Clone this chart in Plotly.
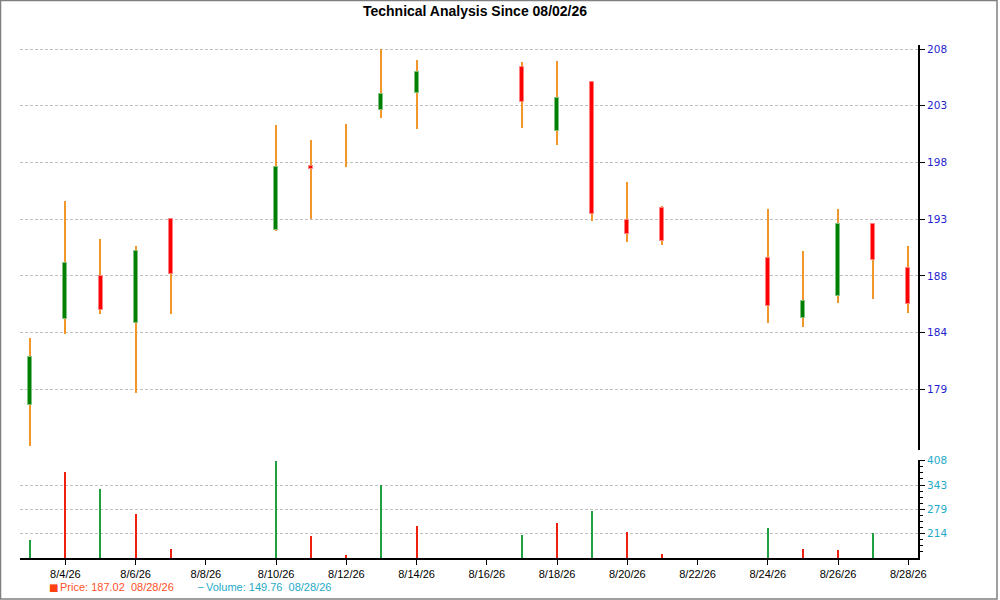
import plotly.graph_objects as go

# ---- data ----
dates = ['2026-08-03', '2026-08-04', '2026-08-05', '2026-08-06', '2026-08-07',
         '2026-08-10', '2026-08-11', '2026-08-12', '2026-08-13', '2026-08-14',
         '2026-08-17', '2026-08-18', '2026-08-19', '2026-08-20', '2026-08-21',
         '2026-08-24', '2026-08-25', '2026-08-26', '2026-08-27', '2026-08-28']
opens = [177.95, 185.20, 188.90, 184.87, 193.68,
         192.77, 198.22, 201.65, 202.91, 204.35,
         206.55, 201.15, 205.33, 193.59, 194.66,
         190.37, 185.29, 187.18, 193.30, 189.58]
highs = [183.62, 195.23, 191.98, 191.41, 193.70,
         201.64, 200.37, 201.72, 208.10, 207.17,
         207.00, 207.08, 205.35, 196.81, 194.80,
         194.52, 190.96, 194.52, 193.35, 191.39]
lows = [174.47, 183.93, 185.63, 178.99, 185.65,
        192.70, 193.68, 198.13, 202.28, 201.30,
        201.43, 199.97, 193.56, 191.78, 191.50,
        184.92, 184.53, 186.61, 186.95, 185.76]
closes = [182.04, 189.95, 185.99, 190.96, 189.02,
          198.13, 197.95, 201.65, 204.26, 206.18,
          203.61, 203.98, 194.12, 192.40, 191.84,
          186.33, 186.78, 193.30, 190.23, 186.48]
volumes = [197.6, 377.5, 332.3, 266.7, 173.7,
           408.32, 208.2, 157.0, 343.8, 234.8,
           210.9, 241.9, 274.7, 218.0, 160.4,
           228.6, 173.7, 171.0, 215.4, 149.76]
volume_dir = ['up', 'down', 'up', 'down', 'down',
              'up', 'down', 'down', 'up', 'down',
              'up', 'down', 'up', 'down', 'down',
              'up', 'down', 'down', 'up', 'down']

price_tick_labels = ['179', '184', '188', '193', '198', '203', '208']
volume_tick_labels = ['214', '279', '343', '408']
date_ticks = ['2026-08-04', '2026-08-06', '2026-08-08', '2026-08-10', '2026-08-12',
              '2026-08-14', '2026-08-16', '2026-08-18', '2026-08-20', '2026-08-22',
              '2026-08-24', '2026-08-26', '2026-08-28']
date_tick_labels = ['8/4/26', '8/6/26', '8/8/26', '8/10/26', '8/12/26', '8/14/26', '8/16/26',
                    '8/18/26', '8/20/26', '8/22/26', '8/24/26', '8/26/26', '8/28/26']

title = 'Technical Analysis Since 08/02/26'
price_legend = 'Price: 187.02\u00a0\u00a008/28/26'
volume_legend = 'Volume: 149.76\u00a0\u00a008/28/26'

# ---- derived ----
PX = 86400000 / 35.12          # ms per pixel on the date axis
p_min, p_max = min(lows), max(highs)
p_step = (p_max - p_min) / 7
price_ticks = [p_min + k * p_step for k in range(1, 8)]
v_min, v_max = min(volumes), max(volumes)
v_step = (v_max - v_min) / 4
volume_ticks = [v_min + k * v_step for k in range(1, 5)]
volume_minor = [v_min + k * v_step / 4 for k in range(1, 17) if k % 4]

body_base = [min(o, c) for o, c in zip(opens, closes)]
body_len = [abs(c - o) for o, c in zip(opens, closes)]
body_fill = ['#008000' if c > o else '#ff0000' if c < o else 'rgba(0,0,0,0)'
             for o, c in zip(opens, closes)]
body_edge = ['#7fbf7f' if c > o else '#ff8080' if c < o else 'rgba(0,0,0,0)'
             for o, c in zip(opens, closes)]
vol_colors = ['#20a040' if d == 'up' else '#f02010' for d in volume_dir]

fig = go.Figure()

# wicks
fig.add_trace(go.Bar(x=dates, y=[h - l for h, l in zip(highs, lows)], base=lows,
                     width=1.2 * PX, marker=dict(color='#f0962a', line=dict(width=0)),
                     xaxis='x', yaxis='y', hoverinfo='skip', showlegend=False))
# bodies
fig.add_trace(go.Bar(x=dates, y=body_len, base=body_base, width=4 * PX,
                     marker=dict(color=body_fill, line=dict(color=body_edge, width=1)),
                     xaxis='x', yaxis='y', showlegend=False))
# volume
fig.add_trace(go.Bar(x=dates, y=volumes, width=1.2 * PX,
                     marker=dict(color=vol_colors, line=dict(width=0)),
                     xaxis='x', yaxis='y2', showlegend=False))

grid = dict(showgrid=True, gridcolor='#c0c0c0', griddash='3px,2px', gridwidth=1)
v_range = [v_min, v_max + 1.9]

fig.update_layout(
    width=1000, height=600,
    margin=dict(l=20, r=82, t=45, b=42),
    paper_bgcolor='white', plot_bgcolor='white',
    barmode='overlay', bargap=0,
    showlegend=False,
    title=dict(text='<b>' + title + '</b>', x=0.475, xref='container', xanchor='center',
               y=0.982, yref='container', yanchor='middle',
               font=dict(family='Liberation Sans, Arial', size=14, color='black')),
    xaxis=dict(type='date', anchor='y2',
               range=['2026-08-02 16:58', '2026-08-28 06:39'],
               tickmode='array', tickvals=date_ticks, ticktext=date_tick_labels,
               ticks='outside', ticklen=5, tickcolor='black', tickwidth=1,
               showline=True, linecolor='black', linewidth=2, showgrid=False,
               tickfont=dict(family='Liberation Sans, Arial', size=11, color='black')),
    yaxis=dict(domain=[0.2105, 1], side='right', anchor='x',
               range=[p_min - 0.34, p_max + 0.34],
               tickmode='array', tickvals=price_ticks, ticktext=price_tick_labels,
               ticks='outside', ticklen=5, tickcolor='black',
               showline=True, linecolor='black', linewidth=2, zeroline=False,
               tickfont=dict(family='DejaVu Sans, Verdana', size=10.5, color='#1f1fcf'),
               **grid),
    yaxis2=dict(domain=[0, 0.191], side='right', anchor='x',
                range=v_range, showgrid=False,
                tickmode='array', tickvals=volume_ticks, ticktext=volume_tick_labels,
                ticks='outside', ticklen=5, tickcolor='black',
                minor=dict(tickmode='array', tickvals=volume_minor, ticks='outside',
                           ticklen=3, tickcolor='black', showgrid=False),
                showline=True, linecolor='black', linewidth=2, zeroline=False,
                tickfont=dict(family='DejaVu Sans, Verdana', size=10.5, color='#1eaac8')),
    # grid of the volume panel without the line at the very top
    yaxis3=dict(overlaying='y2', side='right', anchor='x', range=v_range,
                tickmode='array', tickvals=volume_ticks[:3], showticklabels=False,
                ticks='', showline=False, zeroline=False, **grid),
)
fig.add_trace(go.Scatter(x=[dates[0]], y=[v_min], mode='markers', marker=dict(opacity=0),
                         xaxis='x', yaxis='y3', hoverinfo='skip', showlegend=False))

# legend-like captions under the axis
fig.add_annotation(text='\u25a0', x=47, y=587, showarrow=False,
                   font=dict(size=10, color='#ff4010', family='DejaVu Sans'))
fig.add_annotation(text=price_legend, x=58, y=587, xanchor='left', showarrow=False,
                   font=dict(size=11, color='#ff5028', family='Liberation Sans, Arial'))
fig.add_annotation(text='\u2013', x=196, y=586, showarrow=False,
                   font=dict(size=10, color='#1eaac8', family='Liberation Sans, Arial'))
fig.add_annotation(text=volume_legend, x=204, y=587, xanchor='left', showarrow=False,
                   font=dict(size=11, color='#1eaac8', family='Liberation Sans, Arial'))

# convert the pixel positions of the captions to paper coordinates
plot_w, plot_h = 1000 - 20 - 82, 600 - 45 - 42
for ann in fig.layout.annotations:
    ann.xref, ann.yref = 'paper', 'paper'
    ann.x = (ann.x - 20) / plot_w
    ann.y = (558 - ann.y) / plot_h
    ann.yanchor = 'middle'

# outer frame
fig.add_shape(type='rect', xref='paper', yref='paper',
              x0=(0.5 - 20) / plot_w, x1=(997 - 20) / plot_w,
              y0=(558 - 599) / plot_h, y1=(558 - 0.5) / plot_h,
              line=dict(color='#808080', width=1.5), fillcolor='rgba(0,0,0,0)', layer='below')

fig.write_html('out.html', config={'displayModeBar': False},
               post_script="document.body.style.margin='0px';")
